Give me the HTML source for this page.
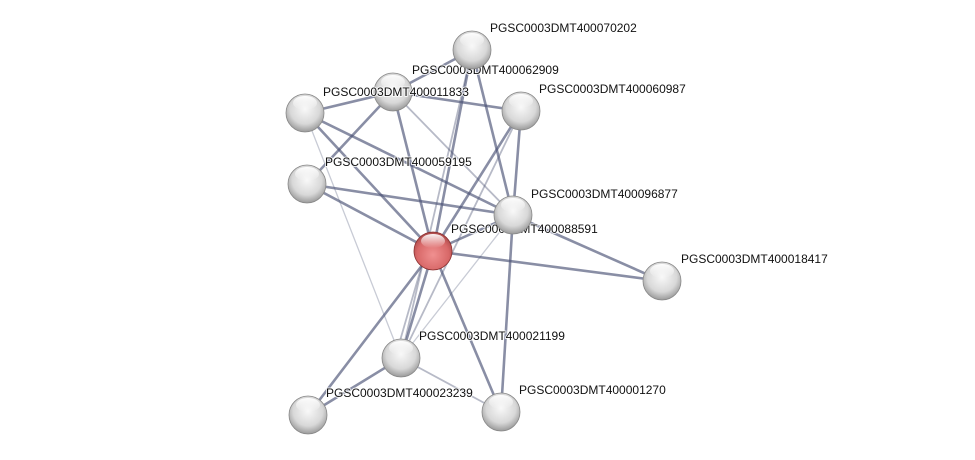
<!DOCTYPE html>
<html><head><meta charset="utf-8"><style>
html,body{margin:0;padding:0;background:#fff;}
svg{display:block;}
text{font-family:"Liberation Sans",sans-serif;font-size:12px;fill:#111;paint-order:stroke;stroke:#fff;stroke-width:2px;stroke-opacity:0.8;}
</style></head><body>
<svg width="975" height="460" viewBox="0 0 975 460" xmlns="http://www.w3.org/2000/svg">
<defs>
<radialGradient id="gw" cx="50%" cy="40%" r="60%">
<stop offset="0" stop-color="#f8f8f8"/><stop offset="0.65" stop-color="#d8d8d8"/><stop offset="1" stop-color="#9a9a9a"/></radialGradient>
<radialGradient id="gr" cx="50%" cy="60%" r="60%">
<stop offset="0" stop-color="#f09090"/><stop offset="0.7" stop-color="#d86868"/><stop offset="1" stop-color="#a84848"/></radialGradient>
<linearGradient id="hl" x1="0" y1="0" x2="0" y2="1"><stop offset="0" stop-color="#fff" stop-opacity="0.95"/><stop offset="1" stop-color="#fff" stop-opacity="0"/></linearGradient>
</defs>
<g stroke-linecap="round" fill="none">
<g stroke="#4a5274" stroke-opacity="0.65" stroke-width="2.6">
<line x1="472" y1="50" x2="393" y2="92"/>
<line x1="472" y1="50" x2="513" y2="215"/>
<line x1="472" y1="50" x2="433" y2="251"/>
<line x1="393" y1="92" x2="305" y2="113"/>
<line x1="393" y1="92" x2="521" y2="111"/>
<line x1="393" y1="92" x2="433" y2="251"/>
<line x1="393" y1="92" x2="307" y2="184"/>
<line x1="305" y1="113" x2="433" y2="251"/>
<line x1="305" y1="113" x2="513" y2="215"/>
<line x1="307" y1="184" x2="513" y2="215"/>
<line x1="307" y1="184" x2="433" y2="251"/>
<line x1="521" y1="111" x2="433" y2="251"/>
<line x1="521" y1="111" x2="513" y2="215"/>
<line x1="513" y1="215" x2="433" y2="251"/>
<line x1="513" y1="215" x2="662" y2="281"/>
<line x1="433" y1="251" x2="662" y2="281"/>
<line x1="433" y1="251" x2="401" y2="358"/>
<line x1="433" y1="251" x2="308" y2="415"/>
<line x1="433" y1="251" x2="501" y2="412"/>
<line x1="401" y1="358" x2="308" y2="415"/>
<line x1="513" y1="215" x2="501" y2="412"/>
</g>
<g stroke="#4a5274" stroke-opacity="0.4" stroke-width="1.8">
<line x1="393" y1="92" x2="513" y2="215"/>
<line x1="472" y1="50" x2="401" y2="358"/>
<line x1="521" y1="111" x2="401" y2="358"/>
<line x1="401" y1="358" x2="501" y2="412"/>
<line x1="426" y1="251" x2="395" y2="358"/>
</g>
<g stroke="#4a5274" stroke-opacity="0.3" stroke-width="1.3">
<line x1="305" y1="113" x2="401" y2="358"/>
<line x1="513" y1="215" x2="401" y2="358"/>
</g>
</g>
<text x="412" y="74">PGSC0003DMT400062909</text>
<text x="451" y="233">PGSC0003DMT400088591</text>
<g>
<circle cx="472" cy="50" r="19" fill="url(#gw)" stroke="#888" stroke-width="0.8"/>
<circle cx="393" cy="92" r="19" fill="url(#gw)" stroke="#888" stroke-width="0.8"/>
<circle cx="305" cy="113" r="19" fill="url(#gw)" stroke="#888" stroke-width="0.8"/>
<circle cx="521" cy="111" r="19" fill="url(#gw)" stroke="#888" stroke-width="0.8"/>
<circle cx="307" cy="184" r="19" fill="url(#gw)" stroke="#888" stroke-width="0.8"/>
<circle cx="513" cy="215" r="19" fill="url(#gw)" stroke="#888" stroke-width="0.8"/>
<circle cx="433" cy="251" r="19" fill="url(#gr)" stroke="#8a3030" stroke-width="0.8"/>
<circle cx="662" cy="281" r="19" fill="url(#gw)" stroke="#888" stroke-width="0.8"/>
<circle cx="401" cy="358" r="19" fill="url(#gw)" stroke="#888" stroke-width="0.8"/>
<circle cx="308" cy="415" r="19" fill="url(#gw)" stroke="#888" stroke-width="0.8"/>
<circle cx="501" cy="412" r="19" fill="url(#gw)" stroke="#888" stroke-width="0.8"/>
</g>
<g fill="url(#hl)">
<ellipse cx="472" cy="40" rx="12" ry="7"/>
<ellipse cx="393" cy="82" rx="12" ry="7"/>
<ellipse cx="305" cy="103" rx="12" ry="7"/>
<ellipse cx="521" cy="101" rx="12" ry="7"/>
<ellipse cx="307" cy="174" rx="12" ry="7"/>
<ellipse cx="513" cy="205" rx="12" ry="7"/>
<ellipse cx="433" cy="241" rx="12" ry="7"/>
<ellipse cx="662" cy="271" rx="12" ry="7"/>
<ellipse cx="401" cy="348" rx="12" ry="7"/>
<ellipse cx="308" cy="405" rx="12" ry="7"/>
<ellipse cx="501" cy="402" rx="12" ry="7"/>
</g>
<text x="490" y="32">PGSC0003DMT400070202</text>
<text x="323" y="96">PGSC0003DMT400011833</text>
<text x="539" y="93">PGSC0003DMT400060987</text>
<text x="325" y="166">PGSC0003DMT400059195</text>
<text x="531" y="198">PGSC0003DMT400096877</text>
<text x="681" y="263">PGSC0003DMT400018417</text>
<text x="419" y="340">PGSC0003DMT400021199</text>
<text x="326" y="397">PGSC0003DMT400023239</text>
<text x="519" y="394">PGSC0003DMT400001270</text>
</svg>
</body></html>
